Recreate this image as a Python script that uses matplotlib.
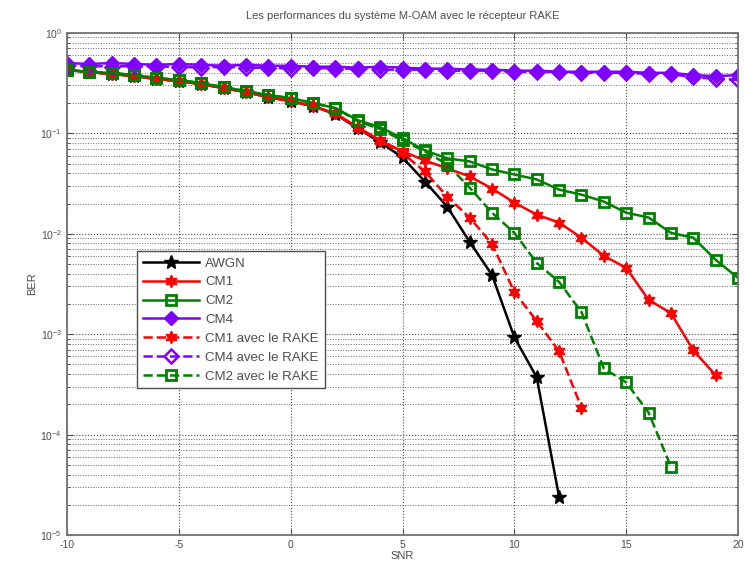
import matplotlib
matplotlib.use("Agg")
import matplotlib.pyplot as plt
import numpy as np

plt.rcParams['font.family'] = ['Liberation Sans', 'DejaVu Sans']
plt.rcParams['axes.unicode_minus'] = False

snr = list(range(-10, 21))

red_early = [0.427, 0.407, 0.389, 0.372, 0.347, 0.331, 0.309, 0.282, 0.257, 0.229, 0.209, 0.186, 0.158]
green_early = [0.427, 0.407, 0.398, 0.380, 0.355, 0.339, 0.316, 0.288, 0.263, 0.240, 0.224, 0.200, 0.178]

awgn = red_early[:-1] + [0.155, 0.112, 0.0813, 0.0575, 0.0331, 0.0186, 0.00832, 0.00389, 0.000933, 0.000372, 2.40e-5]
cm1 = red_early + [0.115, 0.0851, 0.0661, 0.0537, 0.0447, 0.0372, 0.0282, 0.0204, 0.0155, 0.0129,
                   0.00912, 0.00603, 0.00457, 0.00220, 0.00162, 0.000690, 0.000390]
cm2 = green_early + [0.135, 0.115, 0.0891, 0.0676, 0.0562, 0.0525, 0.0437, 0.0389, 0.0347, 0.0275,
                     0.0245, 0.0209, 0.0162, 0.0145, 0.0102, 0.00912, 0.00550, 0.00363]
cm4 = [0.50, 0.49, 0.50, 0.49, 0.48, 0.49, 0.48, 0.47, 0.48, 0.47, 0.47, 0.46, 0.46, 0.45, 0.46, 0.45,
       0.44, 0.44, 0.43, 0.43, 0.42, 0.42, 0.41, 0.41, 0.41, 0.41, 0.40, 0.40, 0.38, 0.37, 0.38]
cm1_rake = red_early + [0.112, 0.0832, 0.0631, 0.0417, 0.0234, 0.0145, 0.00794, 0.00263, 0.00135,
                        0.000676, 0.000186]
cm4_rake = [0.47, 0.47, 0.46, 0.47, 0.46, 0.46, 0.45, 0.46, 0.45, 0.45, 0.44, 0.45, 0.44, 0.44, 0.43, 0.43,
            0.43, 0.42, 0.42, 0.42, 0.41, 0.41, 0.41, 0.40, 0.40, 0.40, 0.39, 0.39, 0.36, 0.35, 0.34]
cm2_rake = green_early + [0.132, 0.110, 0.0851, 0.0661, 0.0490, 0.0288, 0.0162, 0.0102, 0.00513,
                          0.00331, 0.00166, 0.000457, 0.000331, 0.000166, 4.79e-5]

labels = ['AWGN', 'CM1', 'CM2', 'CM4', 'CM1 avec le RAKE', 'CM4 avec le RAKE', 'CM2 avec le RAKE']

red = '#ff0000'
green = '#008000'
purple = '#8000ff'
hexagram = (6, 1, 0)

fig = plt.figure(figsize=(7.44, 5.76), dpi=100)
ax = fig.add_axes([0.090, 0.071, 0.902, 0.872])

ax.semilogy(snr[:len(awgn)], awgn, '-', color='k', marker='*', ms=10, lw=1.8, label=labels[0])
ax.semilogy(snr[:len(cm1)], cm1, '-', color=red, marker=hexagram, ms=9, lw=1.8, label=labels[1])
ax.semilogy(snr[:len(cm2)], cm2, '-', color=green, marker='s', ms=7, mfc='none', mew=2, lw=1.8, label=labels[2])
ax.semilogy(snr[:len(cm4)], cm4, '-', color=purple, marker='D', ms=7, lw=1.8, label=labels[3])
ax.semilogy(snr[:len(cm1_rake)], cm1_rake, '--', color=red, marker=hexagram, ms=9, lw=1.8, label=labels[4])
ax.semilogy(snr[:len(cm4_rake)], cm4_rake, '--', color=purple, marker='D', ms=7, mfc='none', mew=1.8, lw=1.8, label=labels[5])
ax.semilogy(snr[:len(cm2_rake)], cm2_rake, '--', color=green, marker='s', ms=7, mfc='none', mew=2, lw=1.8, label=labels[6])

ax.set_xlim(-10, 20)
ax.set_ylim(1e-5, 1)
ax.set_xticks([-10, -5, 0, 5, 10, 15, 20])
ax.set_yticks([1e-5, 1e-4, 1e-3, 1e-2, 1e-1, 1])
ax.yaxis.set_minor_locator(matplotlib.ticker.LogLocator(base=10, subs=np.arange(2, 10)))
ax.yaxis.set_minor_formatter(matplotlib.ticker.NullFormatter())
ax.tick_params(which='both', direction='in', top=True, right=True, labelsize=7.5, colors='0.3')
ax.tick_params(which='major', length=4)
ax.tick_params(which='minor', length=2)

ax.grid(True, which='major', linestyle=':', color='0.3', linewidth=0.8)
ax.grid(True, which='minor', axis='y', linestyle=':', color='0.4', linewidth=0.7)
for s in ax.spines.values():
    s.set_color('0.45')
    s.set_linewidth(1.3)

ax.set_title('Les performances du système M-OAM avec le récepteur RAKE', fontsize=8, color='0.3', pad=10)
ax.set_xlabel('SNR', fontsize=8, color='0.3', labelpad=1)
ax.set_ylabel('BER', fontsize=8, color='0.3', labelpad=2)

leg = ax.legend(loc='upper left', bbox_to_anchor=(0.095, 0.578), fontsize=9.5, fancybox=False,
                edgecolor='0.3', framealpha=1, handlelength=4.2, borderpad=0.45, labelspacing=0.5,
                handletextpad=0.5)
for t in leg.get_texts():
    t.set_color('0.3')

fig.savefig('out.png', dpi=100)
